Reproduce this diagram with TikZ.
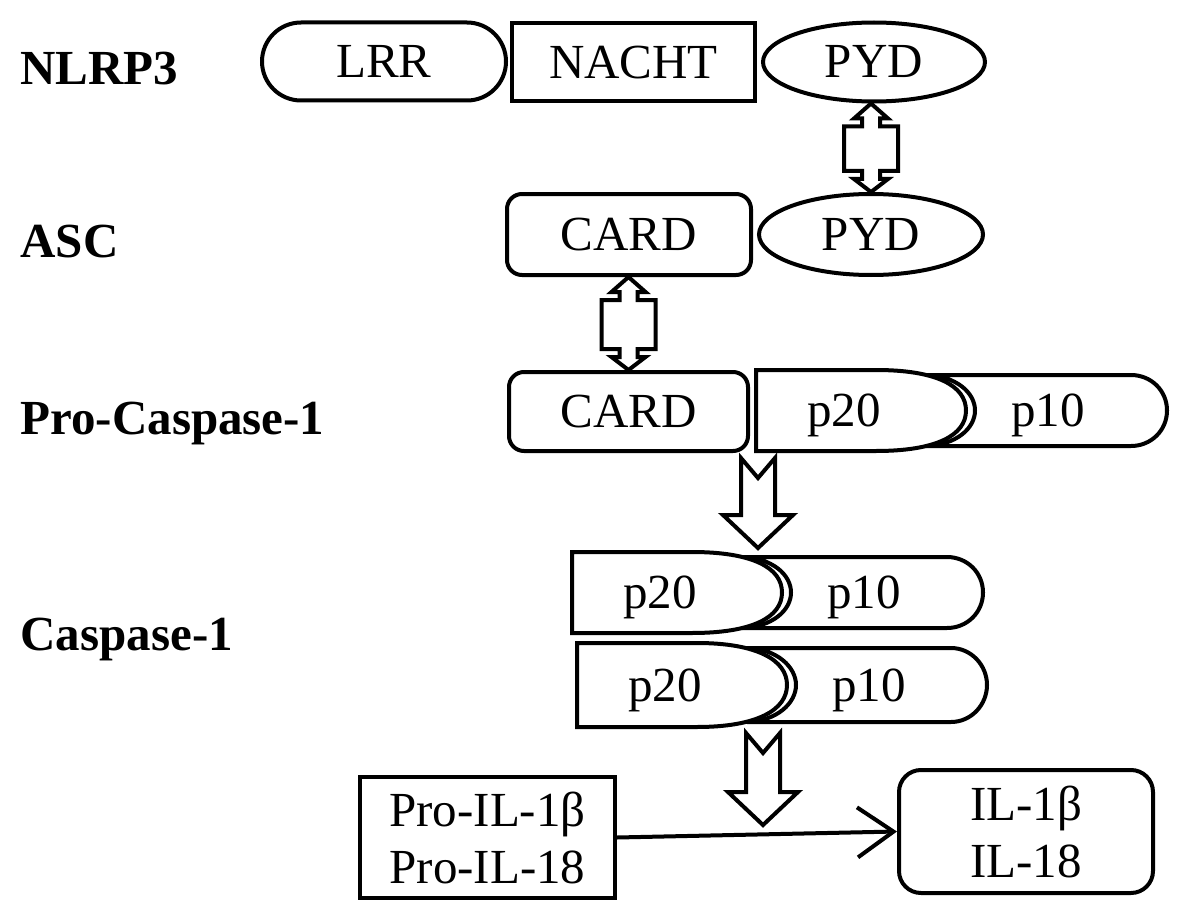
\documentclass[tikz,border=0pt]{standalone}
\usepackage{fontspec}
\setmainfont{Liberation Serif}
\usetikzlibrary{shapes.geometric,arrows.meta,calc}

\newcommand{\bothway}[2]{%
  \draw[hollow] let \p1=(#1), \p2=(#2) in
    (\x2,\y1) -- (\x2+17pt,\y1-15pt) -- (\x2+9pt,\y1-15pt) -- (\x2+9pt,\y1-23pt) -- (\x2+27pt,\y1-23pt)
    -- (\x2+27pt,\y2+21pt) -- (\x2+9pt,\y2+21pt) -- (\x2+9pt,\y2+13pt) -- (\x2+17pt,\y2+13pt) -- (\x2,\y2)
    -- (\x2-17pt,\y2+13pt) -- (\x2-9pt,\y2+13pt) -- (\x2-9pt,\y2+21pt) -- (\x2-27pt,\y2+21pt)
    -- (\x2-27pt,\y1-23pt) -- (\x2-9pt,\y1-23pt) -- (\x2-9pt,\y1-15pt) -- (\x2-17pt,\y1-15pt) -- cycle;}
\newcommand{\oneway}[2]{%
  \draw[hollow] let \p1=(#1), \p2=(#2) in
    (\x1-17pt,\y1) -- (\x1,\y1-20pt) -- (\x1+17pt,\y1) -- (\x1+17pt,\y2+33pt) -- (\x1+35pt,\y2+33pt)
    -- (\x1,\y2) -- (\x1-35pt,\y2+33pt) -- (\x1-17pt,\y2+33pt) -- cycle;}

\begin{document}
\begin{tikzpicture}[x=1pt, y=-1pt,
    every node/.style={font=\fontsize{49}{57}\selectfont},
    tag/.style={anchor=base west, font=\fontsize{49}{57}\selectfont\bfseries},
    box/.style={draw, line width=4pt, inner sep=0pt, text height=32pt, text depth=0pt},
    stadium/.style={box, rounded corners=39pt},
    roundbox/.style={box, rounded corners=15pt},
    oval/.style={box, ellipse},
    twoline/.style={draw, line width=4pt, inner sep=0pt, align=center},
    hollow/.style={draw, line width=4pt, fill=white, line join=miter}]
    \path[fill=white] (0,0) rectangle (1181,915);
    \useasboundingbox (0,0) rectangle (1181,915);

    \node[tag] (nlrp) at (17,85) {NLRP3};
    \node[tag] (asc) at (17,257) {ASC};
    \node[tag] (procasp) at (17,434) {Pro-Caspase-1};
    \node[tag] (casp) at (17,650) {Caspase-1};

    \node[stadium, minimum width=244pt, minimum height=78pt] (lrr) at (384,61.5) {LRR};
    \node[box, minimum width=243pt, minimum height=78pt] (nacht) at (633.5,62.5) {NACHT};
    \node[oval, minimum width=222pt, minimum height=79pt] (pyda) at (874,62) {PYD};
    \node[roundbox, minimum width=244pt, minimum height=81pt] (asccard) at (629,234.5) {CARD};
    \node[oval, minimum width=224pt, minimum height=81pt] (pydb) at (871,234.5) {PYD};
    \node[roundbox, minimum width=239pt, minimum height=79pt] (procard) at (628.5,411.5) {CARD};

    \foreach \l/\t/\b/\r/\n in {756/370/451/1167/pro, 572/552/633/983/a, 577/643/727/987/b} {
        \pgfmathsetmacro{\m}{(\t+\b)/2}
        \draw[hollow] (\l+170,\t+5) -- (\r-36,\t+5) .. controls (\r-16,\t+5) and (\r,\m-20) .. (\r,\m)
            .. controls (\r,\m+20) and (\r-16,\b-5) .. (\r-36,\b-5) -- (\l+170,\b-5)
            .. controls (\l+200,\b-6) and (\l+219,\m+18) .. (\l+219,\m)
            .. controls (\l+219,\m-18) and (\l+200,\t+6) .. (\l+170,\t+5) -- cycle;
        \draw[hollow] (\l,\t) -- (\l+120,\t) .. controls (\l+180,\t) and (\l+210,\m-25) .. (\l+210,\m)
            .. controls (\l+210,\m+25) and (\l+180,\b) .. (\l+120,\b) -- (\l,\b) -- cycle;
        \node[anchor=base] (p20\n) at (\l+88,\m+16) {p20};
        \node[anchor=base] (p10\n) at (\l+292,\m+16) {p10};
    }

    \node[twoline, minimum width=255pt, minimum height=121pt] (pil) at (487.5,837.5) {Pro-IL-1β\\Pro-IL-18};
    \node[twoline, rounded corners=22pt, minimum width=254pt, minimum height=123pt] (il) at (1026,831.5) {IL-1β\\IL-18};

    \coordinate (cut1) at (758,458);
    \coordinate (cut1end) at (758,548);
    \coordinate (cut2) at (763,733);
    \coordinate (cut2end) at (763,825);

    \bothway{pyda.south}{pydb.north}
    \bothway{asccard.south}{procard.north}
    \oneway{cut1}{cut1end}
    \oneway{cut2}{cut2end}

    \draw[line width=4pt, -{Straight Barb[length=36pt,width=50pt]}] (pil.east) -- (il.west);
\end{tikzpicture}
\end{document}
